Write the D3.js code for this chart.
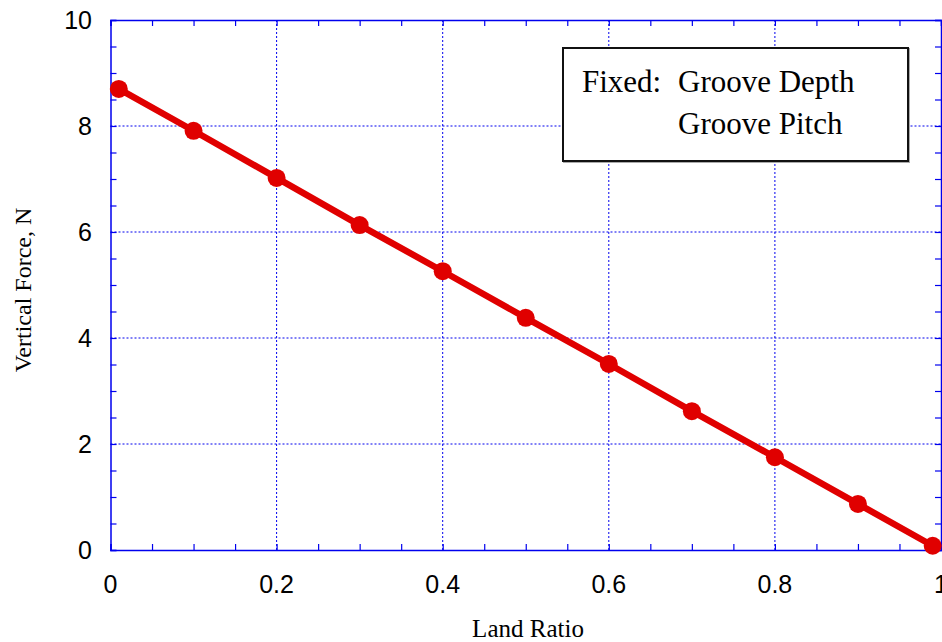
<!DOCTYPE html>
<html><head><meta charset="utf-8">
<script src="https://cdn.jsdelivr.net/npm/d3@7"></script>
<style>body{margin:0;background:#fff}svg{display:block}</style>
</head><body>
<svg id="chart" width="942" height="642"></svg>
<script>
const landRatio = [0.01, 0.1, 0.2, 0.3, 0.4, 0.5, 0.6, 0.7, 0.8, 0.9, 0.99];
const verticalForce = [8.70, 7.91, 7.02, 6.13, 5.26, 4.38, 3.51, 2.62, 1.75, 0.87, 0.08];
const xTicks = [0, 0.2, 0.4, 0.6, 0.8, 1];
const yTicks = [0, 2, 4, 6, 8, 10];
const legendLabel = "Fixed:";
const legendLines = ["Groove Depth", "Groove Pitch"];

const svg = d3.select("#chart");
const L = 110.5, R = 941, T = 20, B = 550;
const x = d3.scaleLinear().domain([0, 1]).range([L, R]);
const y = d3.scaleLinear().domain([0, 10]).range([B, T]);
const blue = "#0000ee";
const sans = "Liberation Sans, Arial, Helvetica, sans-serif";
const serif = "Liberation Serif, Times New Roman, serif";

// grid
const g = svg.append("g");
g.selectAll(".gx").data(xTicks.slice(1, -1)).join("line")
  .attr("x1", d => x(d)).attr("x2", d => x(d)).attr("y1", T).attr("y2", B)
  .attr("stroke", blue).attr("stroke-width", 1).attr("stroke-dasharray", "2,2");
g.selectAll(".gy").data(yTicks.slice(1, -1)).join("line")
  .attr("y1", d => y(d)).attr("y2", d => y(d)).attr("x1", L).attr("x2", R)
  .attr("stroke", blue).attr("stroke-width", 1).attr("stroke-dasharray", "2,2");

// axes with inner ticks
const xMinor = d3.range(0, 1.0001, 0.05);
const yMinor = d3.range(0, 10.001, 0.5);
function fmt(d){ return d3.format("~g")(d); }
const axB = svg.append("g").attr("transform", `translate(0,${B})`)
  .call(d3.axisBottom(x).tickValues(xMinor).tickSize(-6).tickFormat(""));
const axT = svg.append("g").attr("transform", `translate(0,${T})`)
  .call(d3.axisTop(x).tickValues(xMinor).tickSize(-6).tickFormat(""));
const axL = svg.append("g").attr("transform", `translate(${L},0)`)
  .call(d3.axisLeft(y).tickValues(yMinor).tickSize(-6).tickFormat(""));
const axRt = svg.append("g").attr("transform", `translate(${R},0)`)
  .call(d3.axisRight(y).tickValues(yMinor).tickSize(-6).tickFormat(""));
[axB, axT, axL, axRt].forEach(a => {
  a.selectAll("path").attr("stroke", blue).attr("stroke-width", 1.5);
  a.selectAll("line").attr("stroke", blue).attr("stroke-width", 1.2);
});

// tick labels
svg.append("g").selectAll("text").data(xTicks).join("text")
  .attr("x", d => x(d)).attr("y", 593).attr("text-anchor", "middle")
  .attr("font-family", sans).attr("font-size", 25)
  .text(fmt);
svg.append("g").selectAll("text").data(yTicks).join("text")
  .attr("x", 92).attr("y", d => y(d) + 9).attr("text-anchor", "end")
  .attr("font-family", sans).attr("font-size", 25)
  .text(fmt);

// axis titles
svg.append("text").attr("x", 528).attr("y", 637).attr("text-anchor", "middle")
  .attr("font-family", serif).attr("font-size", 25)
  .text("Land Ratio");
svg.append("text").attr("transform", "translate(31,290) rotate(-90)").attr("text-anchor", "middle")
  .attr("font-family", serif).attr("font-size", 24)
  .text("Vertical Force, N");

// series
const data = landRatio.map((d, i) => [d, verticalForce[i]]);
const red = "#e00000";
svg.append("path").datum(data)
  .attr("d", d3.line().x(d => x(d[0])).y(d => y(d[1])))
  .attr("fill", "none").attr("stroke", red).attr("stroke-width", 6.5);
svg.append("g").selectAll("circle").data(data).join("circle")
  .attr("cx", d => x(d[0])).attr("cy", d => y(d[1])).attr("r", 9).attr("fill", red);

// legend box
svg.append("rect").attr("x", 563).attr("y", 48).attr("width", 345).attr("height", 113)
  .attr("fill", "none").attr("stroke", "#aaa").attr("stroke-width", 2).attr("transform", "translate(1,1)");
svg.append("rect").attr("x", 563).attr("y", 48).attr("width", 345).attr("height", 113)
  .attr("fill", "#fff").attr("stroke", "#111").attr("stroke-width", 2);
svg.append("text").attr("x", 582).attr("y", 92)
  .attr("font-family", serif).attr("font-size", 31).text(legendLabel);
svg.append("g").selectAll("text").data(legendLines).join("text")
  .attr("x", 678).attr("y", (d, i) => 92 + i * 42)
  .attr("font-family", serif).attr("font-size", 31).text(d => d);
</script>
</body></html>
